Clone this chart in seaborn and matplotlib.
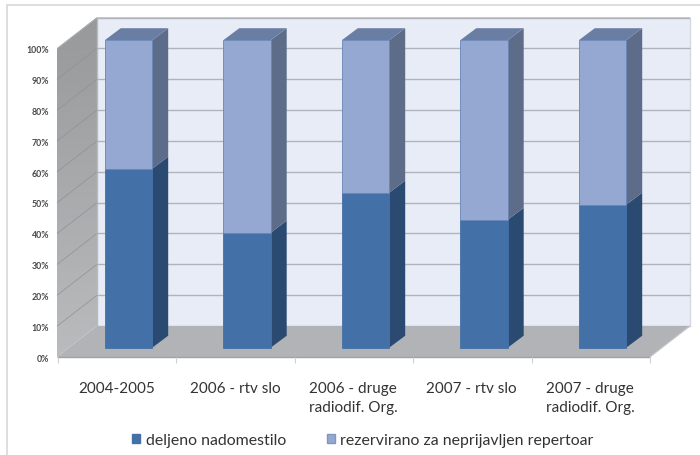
import numpy as np
import seaborn as sns
import matplotlib.pyplot as plt
from matplotlib.patches import Patch, Polygon, Rectangle

categories = ["2004-2005", "2006 - rtv slo", "2006 - druge\nradiodif. Org.", "2007 - rtv slo", "2007 - druge\nradiodif. Org."]
deljeno = [58.2, 37.4, 50.4, 41.6, 46.5]
rezervirano = [41.8, 62.6, 49.6, 58.4, 53.5]
series_names = ["deljeno nadomestilo", "rezervirano za neprijavljen repertoar"]
y_ticks = [0, 10, 20, 30, 40, 50, 60, 70, 80, 90, 100]

sns.set_theme(style="white")
plt.rcParams["font.family"] = ["Lato", "DejaVu Sans"]

W, H = 700, 456
fig = plt.figure(figsize=(7, 4.56), dpi=100)
ax = fig.add_axes([0, 0, 1, 1])

# pixel position -> data position. bars sit on a plane in front of the wall
X0, STEP = 128.5, 118.5
Y0, UNIT = 348.7, 3.075


def px(x):
    return (x - X0) / STEP


def py(y):
    return (Y0 - y) / UNIT


def poly(points, **kw):
    ax.add_patch(Polygon([(px(a), py(b)) for a, b in points], closed=True, **kw))


def line(x1, y1, x2, y2, color="#a3a6aa", lw=1.0, z=1):
    ax.plot([px(x1), px(x2)], [py(y1), py(y2)], color=color, lw=lw, zorder=z, solid_capstyle="butt")


ax.set_axis_off()
ax.add_patch(Rectangle((px(7), py(470)), 800 / STEP, (470 - 6) / UNIT, fc="white", ec="#d8d8d8", lw=1.2, zorder=0))

# back wall, floor, side wall
poly([(97, 19), (690, 19), (690, 327), (97, 327)], fc="#e8ecf6", ec="none", zorder=1)
line(97, 19, 690, 19, color="#c2c4c8", lw=1.2, z=2)
line(690, 19, 690, 327, color="#d6d9e0", lw=1.0, z=2)
poly([(57, 358), (650, 358), (690, 327), (97, 327)], fc="#b1b3b6", ec="none", zorder=1)
grad = np.linspace(0, 1, 64)[:, None]
im = ax.imshow(grad, extent=(px(57), px(97), py(358), py(19)), aspect="auto", origin="upper",
               cmap=sns.blend_palette(["#97999b", "#b9bbbd"], as_cmap=True), zorder=1)
im.set_clip_path(Polygon([(px(57), py(50)), (px(97), py(19)), (px(97), py(327)), (px(57), py(358))],
                         closed=True, transform=ax.transData))
line(97, 19, 97, 327, color="#b8babd", lw=1.0, z=2)

# gridlines and ticks
for t in y_ticks:
    yf = 358 - t * 3.085
    yb = yf - 31
    if t > 0:
        line(57, yf, 97, yb, color="#8f9194", lw=0.5, z=2)
    line(97, yb, 690, yb, color="#b0b4ba", lw=1.0, z=2)
    ax.text(px(49), py(yf + 1.2), f"{t}%", ha="right", va="center", fontsize=6.3, fontweight="bold", color="#484848", zorder=5)
line(57, 358, 650, 358, color="#a0a2a6", lw=1.0, z=3)
line(650, 358, 690, 327, color="#c6c8cb", lw=0.8, z=3)
for i in range(6):
    x = 58 + i * 118.4
    line(x, 358, x, 364, color="#d0d0d0", lw=0.8, z=3)

# front faces of the bars
sns.barplot(x=categories, y=deljeno, color="#4470a8", saturation=1, width=0.4, ax=ax, zorder=4,
            edgecolor="#4470a8", linewidth=0.6)
sns.barplot(x=categories, y=rezervirano, bottom=deljeno, color="#94a8d1", saturation=1, width=0.4, ax=ax, zorder=4,
            edgecolor="#6585b8", linewidth=0.6)

# sides and tops of the bars, 3d offset taken from the values
DX, DY = 16 / STEP, 12 / UNIT
for i, (a, b) in enumerate(zip(deljeno, rezervirano)):
    r = i + 0.2
    l = i - 0.2
    top = a + b
    ax.add_patch(Polygon([(r, 0), (r + DX, DY), (r + DX, a + DY), (r, a)], fc="#2b4a72", ec="none", zorder=3.5))
    ax.add_patch(Polygon([(r, a), (r + DX, a + DY), (r + DX, top + DY), (r, top)], fc="#5d6c88", ec="none", zorder=3.5))
    ax.add_patch(Polygon([(l, top), (r, top), (r + DX, top + DY), (l + DX, top + DY)], fc="#6a7ea3", ec="none", zorder=3.5))

# category labels sit in the middle of the floor ticks, not under the bars
for i, c in enumerate(categories):
    ax.text(px(116.5 + i * 118.4), py(382), c, ha="center", va="top", fontsize=11, color="#333333", linespacing=1.42, zorder=5)

handles = [Patch(fc="#4470a8", ec="#4470a8"), Patch(fc="#94a8d1", ec="#7f96c2")]
ax.legend(handles, series_names, ncol=2, frameon=False, loc="center", bbox_to_anchor=(363 / W, 1 - 441 / H),
          bbox_transform=fig.transFigure, fontsize=11.4, labelcolor="#333333", handlelength=0.5, handleheight=0.5,
          handletextpad=0.35, columnspacing=2.6)

ax.set_xlim(px(0), px(W))
ax.set_ylim(py(H), py(0))
fig.savefig("out.png", dpi=100)
